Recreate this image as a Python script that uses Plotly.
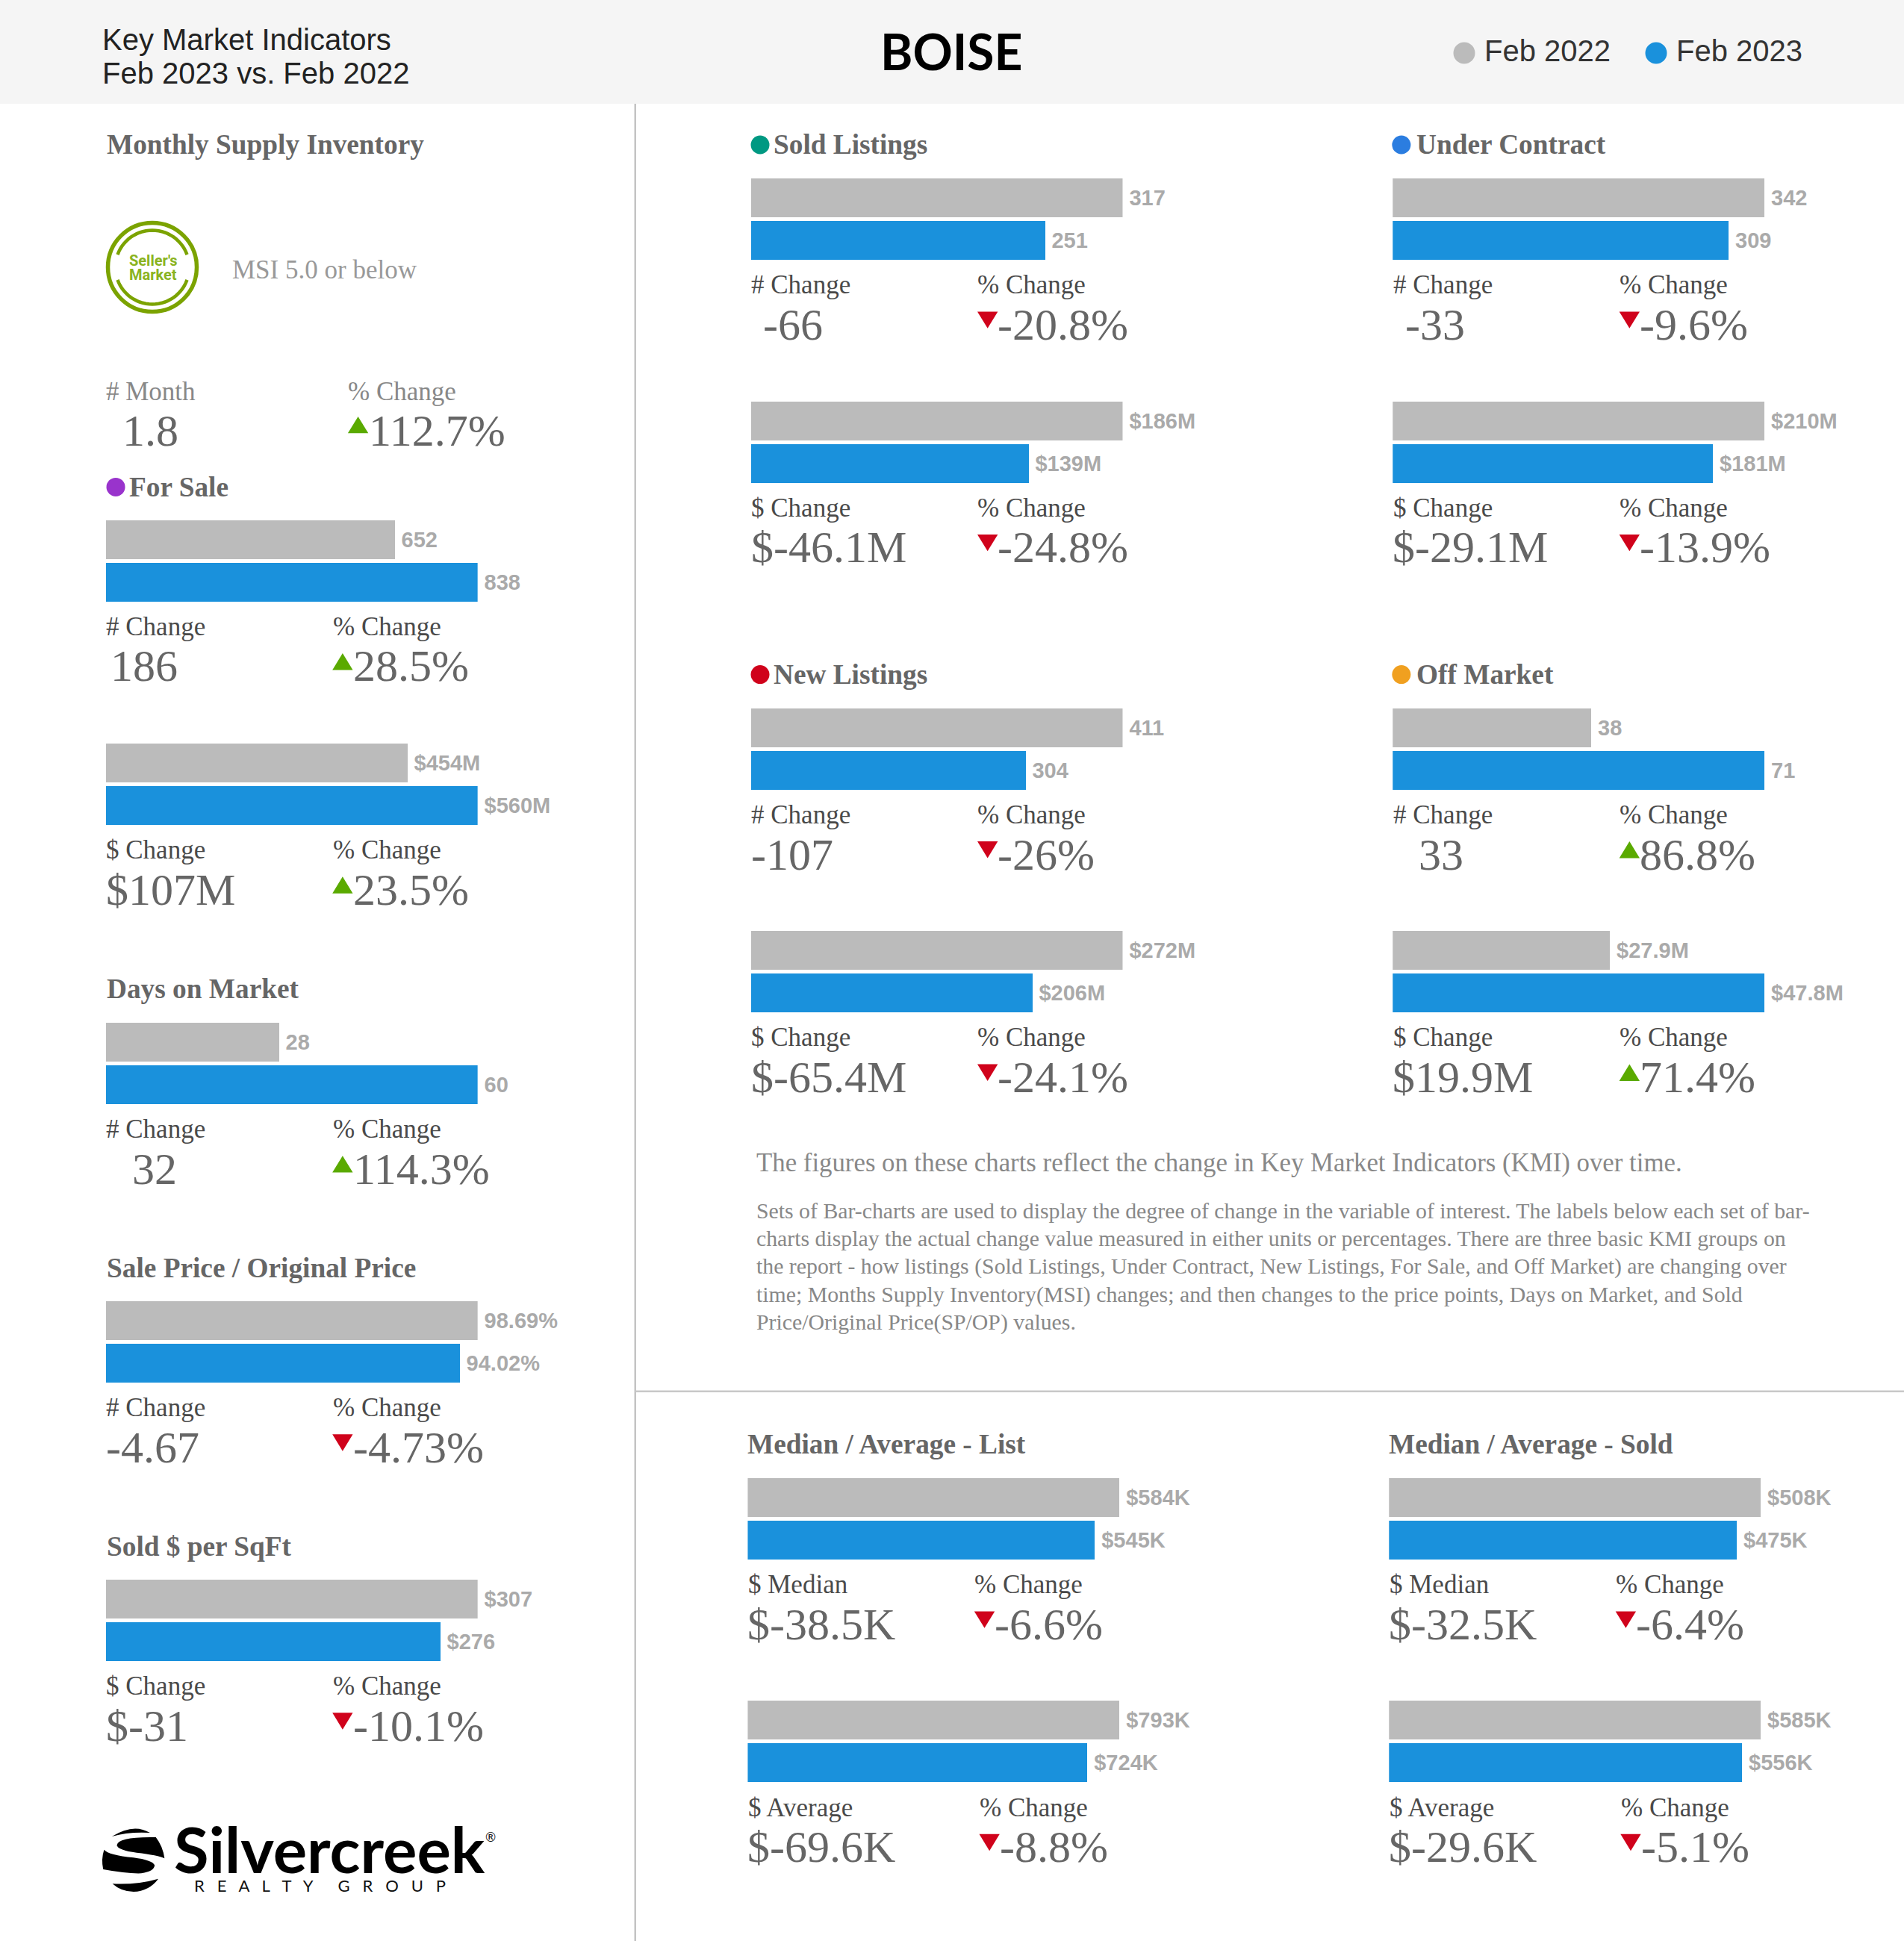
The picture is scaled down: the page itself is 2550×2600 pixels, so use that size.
import math
import plotly.graph_objects as go

# ---------- data ----------
periods = ["Feb 2022", "Feb 2023"]

for_sale_units = [652, 838]
for_sale_units_text = ["652", "838"]
for_sale_dollars = [454, 560]
for_sale_dollars_text = ["$454M", "$560M"]
days_on_market = [28, 60]
days_on_market_text = ["28", "60"]
sale_to_original = [98.69, 94.02]
sale_to_original_text = ["98.69%", "94.02%"]
sold_per_sqft = [307, 276]
sold_per_sqft_text = ["$307", "$276"]

sold_units = [317, 251]
sold_units_text = ["317", "251"]
sold_dollars = [186, 139]
sold_dollars_text = ["$186M", "$139M"]
contract_units = [342, 309]
contract_units_text = ["342", "309"]
contract_dollars = [210, 181]
contract_dollars_text = ["$210M", "$181M"]
new_units = [411, 304]
new_units_text = ["411", "304"]
new_dollars = [272, 206]
new_dollars_text = ["$272M", "$206M"]
off_units = [38, 71]
off_units_text = ["38", "71"]
off_dollars = [27.9, 47.8]
off_dollars_text = ["$27.9M", "$47.8M"]

list_median = [584, 545]
list_median_text = ["$584K", "$545K"]
list_average = [793, 724]
list_average_text = ["$793K", "$724K"]
sold_median = [508, 475]
sold_median_text = ["$508K", "$475K"]
sold_average = [585, 556]
sold_average_text = ["$585K", "$556K"]

description_title = "The figures on these charts reflect the change in Key Market Indicators (KMI) over time."
description_lines = [
    "Sets of Bar-charts are used to display the degree of change in the variable of interest. The labels below each set of bar-",
    "charts display the actual change value measured in either units or percentages. There are three basic KMI groups on",
    "the report - how listings (Sold Listings, Under Contract, New Listings, For Sale, and Off Market) are changing over",
    "time; Months Supply Inventory(MSI) changes; and then changes to the price points, Days on Market, and Sold",
    "Price/Original Price(SP/OP) values.",
]

# ---------- styling and layout ----------
W, H = 2550, 2600
K = 2550 / 1538  # layout table below is in units of a 1538-wide sheet
GRAY, BLUE = "#bbbbbb", "#1a91dc"
UP, DOWN = "#5aaa00", "#d0021b"
SERIF, SANS = "Liberation Serif", "Liberation Sans"

X = lambda p: p / W
Y = lambda p: 1 - p / H

annotations, shapes = [], []


def text(x, y, s, size, color, family=SERIF, bold=False, anchor="left"):
    annotations.append(dict(
        x=X(x), y=Y(y), xref="paper", yref="paper", text=f"<b>{s}</b>" if bold else s,
        showarrow=False, xanchor=anchor, yanchor="middle", borderpad=0, borderwidth=0,
        font=dict(family=family, size=size, color=color), align="left"))


def circle(cx, cy, r, fill=None, line=None, lw=0):
    shapes.append(dict(type="circle", xref="paper", yref="paper",
                       x0=X(cx - r), x1=X(cx + r), y0=Y(cy - r), y1=Y(cy + r),
                       fillcolor=fill or "rgba(0,0,0,0)",
                       line=dict(color=line or "rgba(0,0,0,0)", width=lw)))


def rect(x0, y0, x1, y1, fill):
    shapes.append(dict(type="rect", xref="paper", yref="paper", layer="below",
                       x0=X(x0), x1=X(x1), y0=Y(y0), y1=Y(y1), fillcolor=fill,
                       line=dict(width=0)))


def path(d, fill=None, line=None, lw=0):
    shapes.append(dict(type="path", xref="paper", yref="paper", path=d,
                       fillcolor=fill or "rgba(0,0,0,0)",
                       line=dict(color=line or "rgba(0,0,0,0)", width=lw)))


def triangle(x, y, up):
    # x: left edge on the sheet, y: value-row centre on the sheet
    x0, x1 = x * K, (x + 16.5) * K
    top, bottom = (y - 11.5) * K, (y + 2) * K
    if up:
        d = f"M{X(x0)},{Y(bottom)} L{X(x1)},{Y(bottom)} L{X((x0 + x1) / 2)},{Y(top)} Z"
    else:
        d = f"M{X(x0)},{Y(top)} L{X(x1)},{Y(top)} L{X((x0 + x1) / 2)},{Y(bottom)} Z"
    path(d, fill=UP if up else DOWN)


fig = go.Figure()
LABEL = "#4a4a4a"
VALUE = "#666666"
panel_no = 0


def panel(x0, top, values, labels, left_label, left_value, left_dx, pct_value, up, pct_dx=183):
    """One pair of bars plus the change row below it (sheet units)."""
    global panel_no
    panel_no += 1
    top = top - 0.7
    pitch = 34.4 * K
    px0 = x0 * K
    ptop = top * K - 1.5
    name = "" if panel_no == 1 else str(panel_no)
    fig.add_trace(go.Bar(
        y=periods, x=values, orientation="h", text=labels, textposition="outside",
        marker=dict(color=[GRAY, BLUE], line=dict(width=0)), width=52 / 57,
        textfont=dict(family=SANS, size=29, color="#aaaaaa"),
        texttemplate="<b>\u2009%{text}</b>", cliponaxis=False, constraintext="none",
        hoverinfo="skip", showlegend=False,
        xaxis=f"x{name}", yaxis=f"y{name}"))
    fig.layout[f"xaxis{name}"] = dict(
        domain=[X(px0), X(px0 + 300.3 * K)], range=[0, max(values)], visible=False,
        anchor=f"y{name}", fixedrange=True)
    fig.layout[f"yaxis{name}"] = dict(
        domain=[Y(ptop + 2 * pitch), Y(ptop)], range=[1.5, -0.5], visible=False,
        type="category", categoryorder="array", categoryarray=periods,
        anchor=f"x{name}", fixedrange=True)
    text((x0 + 0.3) * K, (top + 87) * K, left_label, 35, LABEL)
    text((x0 + pct_dx + 0.3) * K, (top + 87) * K, "% Change", 35, LABEL)
    text((x0 + left_dx) * K, (top + 119) * K, left_value, 60, VALUE)
    triangle(x0 + pct_dx, top + 120, up)
    text((x0 + pct_dx + 16.5) * K, (top + 119) * K, pct_value, 60, VALUE)


# header band, rules
rect(0, 0, W, 139, "#f5f5f5")
rect(849.5, 139, 852, H, "#c4c4c4")
rect(852, 1862.5, W, 1865, "#c8c8c8")

text(137, 53, "Key Market Indicators", 40, "#222222", SANS)
text(137, 98, "Feb 2023 vs. Feb 2022", 40, "#222222", SANS)
text(1274, 68, "BOISE", 66, "#000000", "Lato", True, "center")
circle(1961, 71, 14.5, fill=GRAY)
text(1988, 68, periods[0], 40, "#333333", SANS)
circle(2218, 71, 14.5, fill=BLUE)
text(2245, 68, periods[1], 40, "#333333", SANS)

# section titles
TITLE = "#666666"
TS = 37.3
text(86 * K, 117 * K, "Monthly Supply Inventory", TS, TITLE, bold=True)
for dot, cx, tx, cy, title in [
    ("#9933cc", 93.5, 104.5, 393.5, "For Sale"),
    ("#009982", 614, 625, 117, "Sold Listings"),
    ("#2b7de0", 1132, 1144, 117, "Under Contract"),
    ("#d0021b", 614, 625, 545, "New Listings"),
    ("#f0a020", 1132, 1144, 545, "Off Market"),
]:
    circle(cx * K, cy * K, 12.5, fill=dot)
    text(tx * K, cy * K, title, TS, TITLE, bold=True)
for tx, cy, title in [
    (86, 799, "Days on Market"),
    (86, 1024.7, "Sale Price / Original Price"),
    (86, 1249.7, "Sold $ per SqFt"),
    (604, 1167, "Median / Average - List"),
    (1122, 1167, "Median / Average - Sold"),
]:
    text(tx * K, cy * K, title, TS, TITLE, bold=True)

# seller's market badge
GREEN = "#7ba300"
circle(204, 358, 59.5, line=GREEN, lw=5.5)
for a0, a1 in [(20, 160), (200, 340)]:
    pts = [(204 + 49.5 * math.cos(math.radians(a)), 358 - 49.5 * math.sin(math.radians(a)))
           for a in range(a0, a1 + 1, 5)]
    path("M" + " L".join(f"{X(px)},{Y(py)}" for px, py in pts), line=GREEN, lw=4.5)
text(205, 349, "<b>Seller's</b>", 20, "#8ab321", "Roboto", False, "center")
text(205, 368, "<b>Market</b>", 20, "#8ab321", "Roboto", False, "center")
text(311, 361, "MSI 5.0 or below", 35, "#999999")

# months of supply block
text(142, 524, "# Month", 35, "#888888")
text(466, 524, "% Change", 35, "#888888")
text(164, 577, "1.8", 60, VALUE)
triangle(281, 348, True)
text(494, 577, "112.7%", 60, VALUE)

# bar panels
panel(85.5, 420, for_sale_units, for_sale_units_text, "# Change", "186", 4, "28.5%", True)
panel(85.5, 600.5, for_sale_dollars, for_sale_dollars_text, "$ Change", "$107M", 0, "23.5%", True)
panel(85.5, 826, days_on_market, days_on_market_text, "# Change", "32", 21, "114.3%", True)
panel(85.5, 1051, sale_to_original, sale_to_original_text, "# Change", "-4.67", 0, "-4.73%", False)
panel(85.5, 1276, sold_per_sqft, sold_per_sqft_text, "$ Change", "$-31", 0, "-10.1%", False)

panel(606.5, 144, sold_units, sold_units_text, "# Change", "-66", 10, "-20.8%", False)
panel(606.5, 324, sold_dollars, sold_dollars_text, "$ Change", "$-46.1M", 0, "-24.8%", False)
panel(1125, 144, contract_units, contract_units_text, "# Change", "-33", 10, "-9.6%", False)
panel(1125, 324, contract_dollars, contract_dollars_text, "$ Change", "$-29.1M", 0, "-13.9%", False)

panel(606.5, 572, new_units, new_units_text, "# Change", "-107", 0, "-26%", False)
panel(606.5, 752, new_dollars, new_dollars_text, "$ Change", "$-65.4M", 0, "-24.1%", False)
panel(1125, 572, off_units, off_units_text, "# Change", "33", 21, "86.8%", True)
panel(1125, 752, off_dollars, off_dollars_text, "$ Change", "$19.9M", 0, "71.4%", True)

panel(604, 1194, list_median, list_median_text, "$ Median", "$-38.5K", 0, "-6.6%", False)
panel(604, 1374, list_average, list_average_text, "$ Average", "$-69.6K", 0, "-8.8%", False, pct_dx=187)
panel(1122, 1194, sold_median, sold_median_text, "$ Median", "$-32.5K", 0, "-6.4%", False)
panel(1122, 1374, sold_average, sold_average_text, "$ Average", "$-29.6K", 0, "-5.1%", False, pct_dx=187)

# description
text(1013, 1557, description_title, 34.8, "#888888")
for line, ly in zip(description_lines, [1621, 1658, 1696, 1734, 1771]):
    text(1013, ly, line, 29.8, "#888888")

# company mark (globe drawn from bands, wordmark as text)
Z = lambda x, y: f"{X(100 + x / 2.41)},{Y(2350 + y / 3)}"
for d in [
    f"M{Z(120,330)} Q{Z(190,275)} {Z(243,315)} Q{Z(175,310)} {Z(120,330)} Z",
    f"M{Z(262,333)} Q{Z(140,330)} {Z(136,365)} Q{Z(140,385)} {Z(200,395)} Q{Z(270,405)} {Z(290,418)} Q{Z(285,370)} {Z(262,333)} Z",
    f"M{Z(95,383)} Q{Z(85,420)} {Z(92,462)} Q{Z(170,480)} {Z(215,478)} Q{Z(258,470)} {Z(258,445)} Q{Z(250,425)} {Z(190,415)} Q{Z(110,405)} {Z(95,383)} Z",
    f"M{Z(122,520)} Q{Z(200,525)} {Z(270,500)} Q{Z(240,550)} {Z(190,552)} Q{Z(150,552)} {Z(122,520)} Z",
]:
    path(d, fill="#000000")
text(233, 2476, "Silvercreek", 85, "#000000", "Lato", True)
text(260, 2525, "R   E   A   L   T   Y      G   R   O   U   P", 22, "#111111", "Lato")
text(657, 2460, "®", 17, "#111111", "Lato", False, "center")

fig.update_layout(
    width=W, height=H, margin=dict(l=0, r=0, t=0, b=0), autosize=False,
    paper_bgcolor="#ffffff", plot_bgcolor="rgba(0,0,0,0)", showlegend=False,
    bargap=0, annotations=annotations, shapes=shapes,
)
fig.write_html("out.html", config={"displayModeBar": False},
               post_script="document.body.style.margin='0';")
